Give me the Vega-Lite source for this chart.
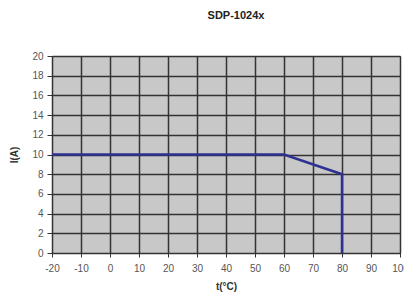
{
  "$schema": "https://vega.github.io/schema/vega-lite/v6.json",
  "autosize": "none",
  "padding": {"left": 52, "top": 56, "right": 4, "bottom": 52},
  "width": 348,
  "height": 197,
  "background": "white",
  "title": {"text": "SDP-1024x", "font": "Liberation Sans", "fontSize": 11, "fontWeight": "bold", "color": "#222", "offset": 30, "dx": 10},
  "config": {"view": {"fill": "#c8c8c8", "stroke": "#333", "strokeWidth": 1}},
  "data": {"values": [
    {"t": -20, "i": 10},
    {"t": 60, "i": 10},
    {"t": 80, "i": 8},
    {"t": 80, "i": 0}
  ]},
  "mark": {"type": "line", "color": "#2e3192", "strokeWidth": 2.5},
  "encoding": {
    "x": {"field": "t", "type": "quantitative", "scale": {"domain": [-20, 100], "nice": false, "zero": false},
      "axis": {"values": [-20,-10,0,10,20,30,40,50,60,70,80,90,100], "labelExpr": "'' + datum.value", "title": "t(°C)", "titleFont": "Liberation Sans", "titleFontSize": 10, "titleFontWeight": "bold", "titleColor": "#333", "titlePadding": 8,
        "labelFont": "Liberation Sans", "labelFontSize": 10, "labelColor": "#555", "labelPadding": 6, "tickColor": "#333", "tickSize": 4, "domainColor": "#333", "gridColor": "#333", "gridOpacity": 1, "gridWidth": 1.5, "labelFlush": false, "labelOverlap": false}},
    "y": {"field": "i", "type": "quantitative", "scale": {"domain": [0, 20], "nice": false},
      "axis": {"values": [0,2,4,6,8,10,12,14,16,18,20], "title": "I(A)", "titleFont": "Liberation Sans", "titleFontSize": 10, "titleFontWeight": "bold", "titleColor": "#333", "titlePadding": 12,
        "labelFont": "Liberation Sans", "labelFontSize": 10, "labelColor": "#555", "labelPadding": 4, "tickColor": "#333", "tickSize": 5, "domainColor": "#333", "gridColor": "#333", "gridOpacity": 1, "gridWidth": 1.5}}
  }
}
